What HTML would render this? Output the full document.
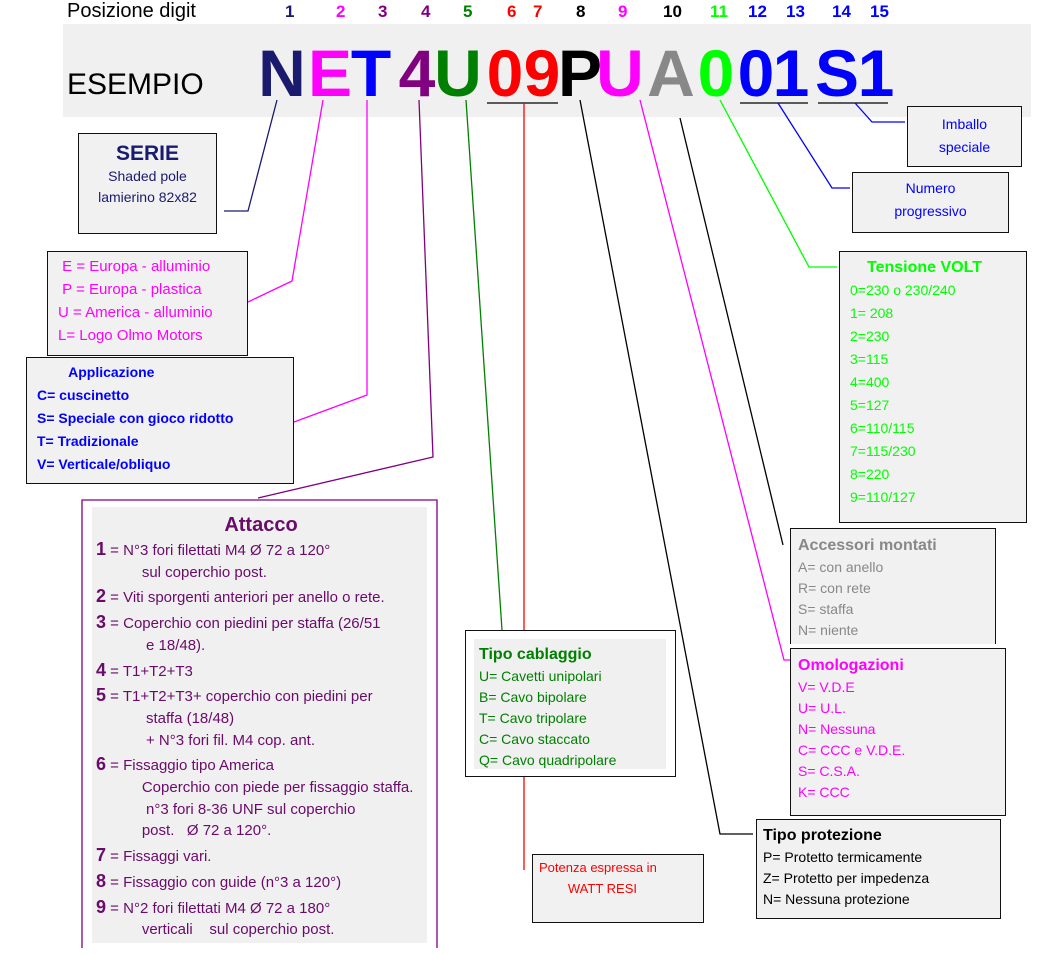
<!DOCTYPE html>
<html><head><meta charset="utf-8"><style>
body{margin:0;width:1061px;height:955px;background:#fff;position:relative;overflow:hidden;font-family:"Liberation Sans",sans-serif;}
.a{position:absolute;}
.box{position:absolute;background:#f1f1f1;border:1.5px solid #111;box-sizing:border-box;}
.big{position:absolute;top:40px;width:50px;text-align:center;font-size:66px;font-weight:bold;line-height:66px;}
.d{position:absolute;top:2px;font-size:17px;font-weight:bold;}
.t{font-size:14px;line-height:23px;white-space:nowrap;}
</style></head><body>
<div class="a" style="left:63px;top:24px;width:968px;height:93px;background:#f0f0f0"></div>
<div class="a" style="left:67px;top:0;font-size:20px">Posizione digit</div>
<div class="d" style="left:285px;color:#1a1a6e">1</div>
<div class="d" style="left:336px;color:#f0f">2</div>
<div class="d" style="left:378px;color:#800080">3</div>
<div class="d" style="left:421px;color:#800080">4</div>
<div class="d" style="left:463px;color:#008000">5</div>
<div class="d" style="left:507px;color:#f00">6</div>
<div class="d" style="left:533px;color:#f00">7</div>
<div class="d" style="left:576px;color:#000">8</div>
<div class="d" style="left:618px;color:#f0f">9</div>
<div class="d" style="left:663px;color:#000">10</div>
<div class="d" style="left:710px;color:#0f0">11</div>
<div class="d" style="left:748px;color:#00f">12</div>
<div class="d" style="left:786px;color:#00f">13</div>
<div class="d" style="left:832px;color:#00f">14</div>
<div class="d" style="left:870px;color:#00f">15</div>
<div class="a" style="left:67px;top:68px;font-size:30px">ESEMPIO</div>
<div class="big" style="left:257px;color:#1a1a6e">N</div>
<div class="big" style="left:305px;color:#f0f">E</div>
<div class="big" style="left:346px;color:#00f">T</div>
<div class="big" style="left:392px;color:#800080">4</div>
<div class="big" style="left:433px;color:#008000">U</div>
<div class="big" style="left:480px;color:#f00">0</div>
<div class="big" style="left:517px;color:#f00">9</div>
<div class="big" style="left:555px;color:#000">P</div>
<div class="big" style="left:595px;color:#f0f">U</div>
<div class="big" style="left:646px;color:#888">A</div>
<div class="big" style="left:691px;color:#0f0">0</div>
<div class="big" style="left:731px;color:#00f">0</div>
<div class="big" style="left:766px;color:#00f">1</div>
<div class="big" style="left:812px;color:#00f">S</div>
<div class="big" style="left:851px;color:#00f">1</div>
<svg class="a" style="left:0;top:0" width="1061" height="955">
<g fill="none" stroke-width="1.3">
<path d="M487 103H558M740 103H808M818 103H888" stroke="#000"/>
<path d="M277 100L248 211H224" stroke="#1a1a6e"/>
<path d="M323 100L292 281L248 302" stroke="#f0f"/>
<path d="M367 100V395L294 422" stroke="#f0f"/>
<path d="M419 100L433 457L258 498" stroke="#800080"/>
<path d="M466 100L502 630" stroke="#008000"/>
<path d="M524 103V870" stroke="#f00"/>
<path d="M580 100L720 834H753" stroke="#000"/>
<path d="M640 100L784 660H790" stroke="#f0f"/>
<path d="M680 118L783 545" stroke="#000"/>
<path d="M720 100L809 267H837" stroke="#0f0"/>
<path d="M778 103L832 188H850" stroke="#00f"/>
<path d="M855 103L872 122H905" stroke="#00f"/>
<path d="M82 948V500H437V948" stroke="#800080"/>
</g></svg>
<div class="a" style="left:92px;top:507px;width:335px;height:436px;background:#f0f0f0"></div>
<div class="a t" style="left:96px;top:511px;color:#6a0a6a;line-height:21.7px;font-size:15px">
<div style="text-align:center;font-size:20px;font-weight:bold;width:330px;line-height:28px">Attacco</div>
<b style="font-size:18px">1</b> = N°3 fori filettati M4 Ø 72 a 120°<br>
&nbsp;&nbsp;&nbsp;&nbsp;&nbsp;&nbsp;&nbsp;&nbsp;&nbsp;&nbsp;&nbsp;sul coperchio post.<br>
<div style="height:3px"></div><b style="font-size:18px">2</b> = Viti sporgenti anteriori per anello o rete.<br>
<div style="height:3px"></div><b style="font-size:18px">3</b> = Coperchio con piedini per staffa (26/51<br>
&nbsp;&nbsp;&nbsp;&nbsp;&nbsp;&nbsp;&nbsp;&nbsp;&nbsp;&nbsp;&nbsp;&nbsp;e 18/48).<br>
<div style="height:3px"></div><b style="font-size:18px">4</b> = T1+T2+T3<br>
<div style="height:3px"></div><b style="font-size:18px">5</b> = T1+T2+T3+ coperchio con piedini per<br>
&nbsp;&nbsp;&nbsp;&nbsp;&nbsp;&nbsp;&nbsp;&nbsp;&nbsp;&nbsp;&nbsp;&nbsp;staffa (18/48)<br>
&nbsp;&nbsp;&nbsp;&nbsp;&nbsp;&nbsp;&nbsp;&nbsp;&nbsp;&nbsp;&nbsp;&nbsp;+ N°3 fori fil. M4 cop. ant.<br>
<div style="height:3px"></div><b style="font-size:18px">6</b> = Fissaggio tipo America<br>
&nbsp;&nbsp;&nbsp;&nbsp;&nbsp;&nbsp;&nbsp;&nbsp;&nbsp;&nbsp;&nbsp;Coperchio con piede per fissaggio staffa.<br>
&nbsp;&nbsp;&nbsp;&nbsp;&nbsp;&nbsp;&nbsp;&nbsp;&nbsp;&nbsp;&nbsp;&nbsp;n°3 fori 8-36 UNF sul coperchio<br>
&nbsp;&nbsp;&nbsp;&nbsp;&nbsp;&nbsp;&nbsp;&nbsp;&nbsp;&nbsp;&nbsp;post.&nbsp;&nbsp; Ø 72 a 120°.<br>
<div style="height:3px"></div><b style="font-size:18px">7</b> = Fissaggi vari.<br>
<div style="height:3px"></div><b style="font-size:18px">8</b> = Fissaggio con guide (n°3 a 120°)<br>
<div style="height:3px"></div><b style="font-size:18px">9</b> = N°2 fori filettati M4 Ø 72 a 180°<br>
&nbsp;&nbsp;&nbsp;&nbsp;&nbsp;&nbsp;&nbsp;&nbsp;&nbsp;&nbsp;&nbsp;verticali &nbsp;&nbsp; sul coperchio post.
</div>
<div class="box" style="left:78px;top:133px;width:139px;height:101px;text-align:center;color:#1a1a6e">
<div style="font-size:21px;font-weight:bold;margin-top:8px">SERIE</div>
<div class="t" style="line-height:21px">Shaded pole<br>lamierino 82x82</div></div>
<div class="box" style="left:47px;top:251px;width:201px;height:105px;color:#f0f;padding:3px 0 0 10px">
<div class="t" style="font-size:15px">&nbsp;E = Europa - alluminio<br>&nbsp;P = Europa - plastica<br>U = America - alluminio<br>L= Logo Olmo Motors</div></div>
<div class="box" style="left:26px;top:357px;width:268px;height:127px;color:#00f;padding:3px 0 0 10px">
<div class="t" style="font-weight:bold">&nbsp;&nbsp;&nbsp;&nbsp;&nbsp;&nbsp;&nbsp;&nbsp;Applicazione<br>C= cuscinetto<br>S= Speciale con gioco ridotto<br>T= Tradizionale<br>V= Verticale/obliquo</div></div>
<div class="box" style="left:907px;top:106px;width:115px;height:61px;color:#00f;text-align:center;padding-top:6px">
<div class="t">Imballo<br>speciale</div></div>
<div class="box" style="left:852px;top:172px;width:157px;height:61px;color:#00f;text-align:center;padding-top:4px">
<div class="t">Numero<br>progressivo</div></div>
<div class="box" style="left:839px;top:251px;width:188px;height:272px;color:#0f0;padding:4px 0 0 10px">
<div class="t" style="font-weight:bold;font-size:16px;padding-left:17px">Tensione VOLT</div>
<div class="t">0=230 o 230/240<br>1= 208<br>2=230<br>3=115<br>4=400<br>5=127<br>6=110/115<br>7=115/230<br>8=220<br>9=110/127</div></div>
<div class="box" style="left:790px;top:528px;width:206px;height:116px;color:#888;padding:5px 0 0 7px;border-bottom:none">
<div class="t" style="font-weight:bold;font-size:16px">Accessori montati</div>
<div class="t" style="line-height:21px">A= con anello<br>R= con rete<br>S= staffa<br>N= niente</div></div>
<div class="box" style="left:790px;top:648px;width:216px;height:168px;color:#f0f;padding:5px 0 0 7px">
<div class="t" style="font-weight:bold;font-size:16px">Omologazioni</div>
<div class="t" style="line-height:21px">V= V.D.E<br>U= U.L.<br>N= Nessuna<br>C= CCC e V.D.E.<br>S= C.S.A.<br>K= CCC</div></div>
<div class="box" style="left:756px;top:819px;width:245px;height:100px;color:#000;padding:4px 0 0 6px">
<div class="t" style="font-weight:bold;font-size:16px">Tipo protezione</div>
<div class="t" style="line-height:21px">P= Protetto termicamente<br>Z= Protetto per impedenza<br>N= Nessuna protezione</div></div>
<div class="box" style="left:465px;top:630px;width:211px;height:147px;background:#fff">
<div class="a" style="left:8px;top:8px;width:192px;height:130px;background:#f0f0f0;color:#008000;padding:4px 0 0 5px;box-sizing:border-box">
<div class="t" style="font-weight:bold;font-size:16px">Tipo cablaggio</div>
<div class="t" style="line-height:21px">U= Cavetti unipolari<br>B= Cavo bipolare<br>T= Cavo tripolare<br>C= Cavo staccato<br>Q= Cavo quadripolare</div></div></div>
<div class="box" style="left:532px;top:854px;width:172px;height:69px;color:#f00;padding:2px 0 0 6px">
<div class="t" style="font-size:13px;line-height:21px">Potenza espressa in<br>&nbsp;&nbsp;&nbsp;&nbsp;&nbsp;&nbsp;&nbsp;&nbsp;WATT RESI</div></div>
</body></html>
